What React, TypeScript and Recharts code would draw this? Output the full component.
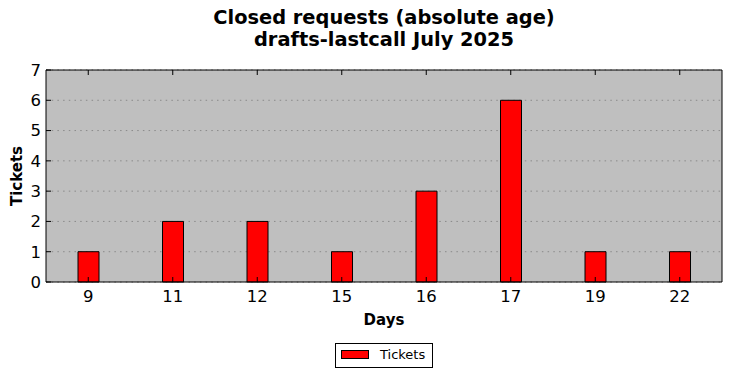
import React from 'react';
import { BarChart, Bar, XAxis, YAxis, CartesianGrid } from 'recharts';

const days = ['9', '11', '12', '15', '16', '17', '19', '22'];
const tickets = [1, 2, 2, 1, 3, 6, 1, 1];
const yTicks = [0, 1, 2, 3, 4, 5, 6, 7];
const titleLines = ['Closed requests (absolute age)', 'drafts-lastcall July 2025'];

const data = days.map((d, i) => ({ day: d, Tickets: tickets[i] }));

const FONT = 'DejaVu Sans, sans-serif';
const empty = () => '';

export default function App() {
  return (
    <div style={{ position: 'absolute', left: 0, top: 0, width: 732, height: 378, background: '#fff', fontFamily: FONT }}>
      <BarChart width={732} height={378} data={data} margin={{ top: 69, right: 9, bottom: 66, left: 6 }}>
        <CartesianGrid vertical={false} fill="#bfbfbf" stroke="#8a8a8a" strokeDasharray="1.5 4.2" yAxisId="left" />
        <XAxis
          dataKey="day"
          xAxisId="bottom"
          orientation="bottom"
          height={30}
          tickSize={-5}
          tickMargin={13}
          axisLine={{ stroke: '#000' }}
          tickLine={{ stroke: '#000' }}
          tick={{ fill: '#000', fontSize: 16.5, fontFamily: FONT }}
        />
        <XAxis
          dataKey="day"
          xAxisId="top"
          orientation="top"
          height={1}
          tickSize={-5}
          tickFormatter={empty}
          axisLine={{ stroke: '#000' }}
          tickLine={{ stroke: '#000' }}
        />
        <YAxis
          yAxisId="left"
          orientation="left"
          width={40}
          domain={[0, 7]}
          ticks={yTicks}
          interval={0}
          tickSize={-5}
          tickMargin={10}
          axisLine={{ stroke: '#000' }}
          tickLine={{ stroke: '#000' }}
          tick={{ fill: '#000', fontSize: 16.5, fontFamily: FONT }}
        />
        <YAxis
          yAxisId="right"
          orientation="right"
          width={1}
          domain={[0, 7]}
          ticks={yTicks}
          interval={0}
          tickSize={-5}
          tickFormatter={empty}
          axisLine={{ stroke: '#000' }}
          tickLine={{ stroke: '#000' }}
        />
        <Bar
          dataKey="Tickets"
          xAxisId="bottom"
          yAxisId="left"
          fill="#ff0000"
          stroke="#000"
          strokeWidth={1}
          barSize={21}
          isAnimationActive={false}
        />
      </BarChart>
      <div style={{ position: 'absolute', left: 46, top: 7, width: 676, textAlign: 'center', fontWeight: 'bold', fontSize: 19.4, lineHeight: '22px', color: '#000' }}>
        {titleLines.map((t) => (
          <div key={t}>{t}</div>
        ))}
      </div>
      <div style={{ position: 'absolute', left: 46, width: 676, top: 311, textAlign: 'center', fontWeight: 'bold', fontSize: 15, color: '#000' }}>
        Days
      </div>
      <div style={{ position: 'absolute', left: 17, top: 176, width: 0, height: 0 }}>
        <div style={{ position: 'absolute', transform: 'translate(-50%, -50%) rotate(-90deg)', fontWeight: 'bold', fontSize: 15, whiteSpace: 'nowrap', color: '#000' }}>
          Tickets
        </div>
      </div>
      <div style={{ position: 'absolute', left: 335, top: 343, width: 98, height: 25, border: '1px solid #000', boxSizing: 'border-box', background: '#fff' }}>
        <div style={{ position: 'absolute', left: 5, top: 6, width: 28, height: 9, boxSizing: 'border-box', background: '#ff0000', border: '1px solid #000' }} />
        <div style={{ position: 'absolute', left: 44, top: 3, fontSize: 13, color: '#000', lineHeight: '16px' }}>Tickets</div>
      </div>
    </div>
  );
}
